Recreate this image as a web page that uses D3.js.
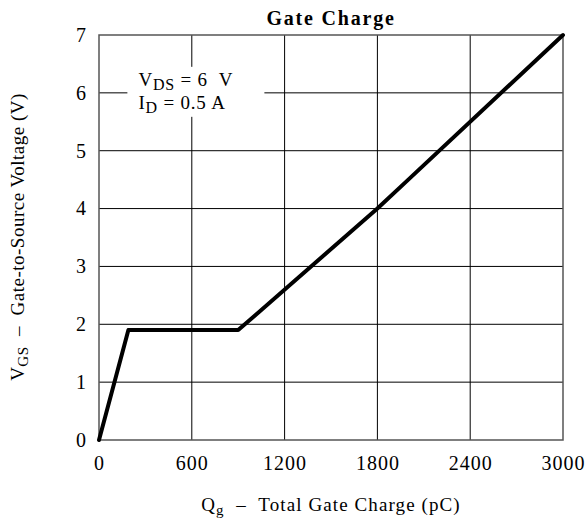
<!DOCTYPE html>
<html>
<head>
<script src="https://cdn.jsdelivr.net/npm/d3@7"></script>
<style>
  body { margin: 0; background: #fff; }
  text { font-family: "Liberation Serif", "Times New Roman", serif; fill: #000; white-space: pre; }
</style>
</head>
<body>
<svg id="chart" width="585" height="524"></svg>
<script>
// curve
const charge = [0, 190, 900, 1800, 2000, 3000];      // pC
const vgs = [0, 1.9, 1.9, 4.0, 4.5, 7.0];          // V
const xTicks = [0, 600, 1200, 1800, 2400, 3000];
const yTicks = [0, 1, 2, 3, 4, 5, 6, 7];

const svg = d3.select("#chart");
const margin = { top: 35, right: 22, bottom: 84, left: 99 };
const width = 585 - margin.left - margin.right;
const height = 524 - margin.top - margin.bottom;

const x = d3.scaleLinear().domain([0, 3000]).range([0, width]);
const y = d3.scaleLinear().domain([0, 7]).range([height, 0]);

const g = svg.append("g").attr("transform", `translate(${margin.left},${margin.top})`);

// grid
g.append("g").selectAll("line").data(xTicks.slice(1, -1)).enter().append("line")
    .attr("x1", d => x(d)).attr("x2", d => x(d))
    .attr("y1", 0).attr("y2", height)
    .attr("stroke", "#000").attr("stroke-width", 1);
g.append("g").selectAll("line").data(yTicks.slice(1, -1)).enter().append("line")
    .attr("x1", 0).attr("x2", width)
    .attr("y1", d => y(d)).attr("y2", d => y(d))
    .attr("stroke", "#000").attr("stroke-width", 1);

// frame
g.append("rect").attr("width", width).attr("height", height)
    .attr("fill", "none").attr("stroke", "#555").attr("stroke-width", 1.5);

// axes (labels only)
const xAxis = g.append("g").attr("transform", `translate(0,${height})`)
    .call(d3.axisBottom(x).tickValues(xTicks).tickSize(0).tickPadding(16).tickFormat(d3.format("d")));
const yAxis = g.append("g")
    .call(d3.axisLeft(y).tickValues(yTicks).tickSize(0).tickPadding(12).tickFormat(d3.format("d")));
[xAxis, yAxis].forEach(a => {
    a.select(".domain").remove();
    a.selectAll("text").style("font-size", "20px").style("letter-spacing", "1px")
        .style("font-family", "Liberation Serif");
});

// legend box
const leg = g.append("g").attr("transform", `translate(${x(190)},${y(6.45)})`);
leg.append("rect").attr("x", -1).attr("y", 0).attr("width", 137).attr("height", 50).attr("fill", "#fff");
const t1 = leg.append("text").attr("x", 10).attr("y", 19).style("font-size", "19px").style("letter-spacing", "0.8px");
t1.append("tspan").text("V");
t1.append("tspan").attr("dy", 4).style("font-size", "16px").text("DS");
t1.append("tspan").attr("dy", -4).text(" = 6  V");
const t2 = leg.append("text").attr("x", 10).attr("y", 42).style("font-size", "19px").style("letter-spacing", "0.8px");
t2.append("tspan").text("I");
t2.append("tspan").attr("dy", 4).style("font-size", "16px").text("D");
t2.append("tspan").attr("dy", -4).text(" = 0.5 A");

// curve
g.append("path")
    .datum(charge.map((c, i) => [c, vgs[i]]))
    .attr("fill", "none").attr("stroke", "#000").attr("stroke-width", 4)
    .attr("stroke-linejoin", "round").attr("stroke-linecap", "round")
    .attr("d", d3.line().x(d => x(d[0])).y(d => y(d[1])));

// title
svg.append("text").attr("x", margin.left + width / 2).attr("y", 25)
    .attr("text-anchor", "middle").style("font-size", "20px").style("font-weight", "bold")
    .style("letter-spacing", "1.8px")
    .text("Gate Charge");

// x label
const xl = svg.append("text").attr("x", margin.left + width / 2).attr("y", 511)
    .attr("text-anchor", "middle").style("font-size", "19px").style("letter-spacing", "1.1px");
xl.append("tspan").text("Q");
xl.append("tspan").attr("dy", 4).style("font-size", "15px").text("g");
xl.append("tspan").attr("dy", -4).text("  –  Total Gate Charge (pC)");

// y label
const yl = svg.append("text")
    .attr("transform", `translate(24,${margin.top + height / 2 - 0.5}) rotate(-90)`)
    .attr("text-anchor", "middle").style("font-size", "19px").style("letter-spacing", "0.5px");
yl.append("tspan").text("V");
yl.append("tspan").attr("dy", 4).style("font-size", "15px").text("GS");
yl.append("tspan").attr("dy", -4).text("  –  Gate-to-Source Voltage (V)");
</script>
</body>
</html>
